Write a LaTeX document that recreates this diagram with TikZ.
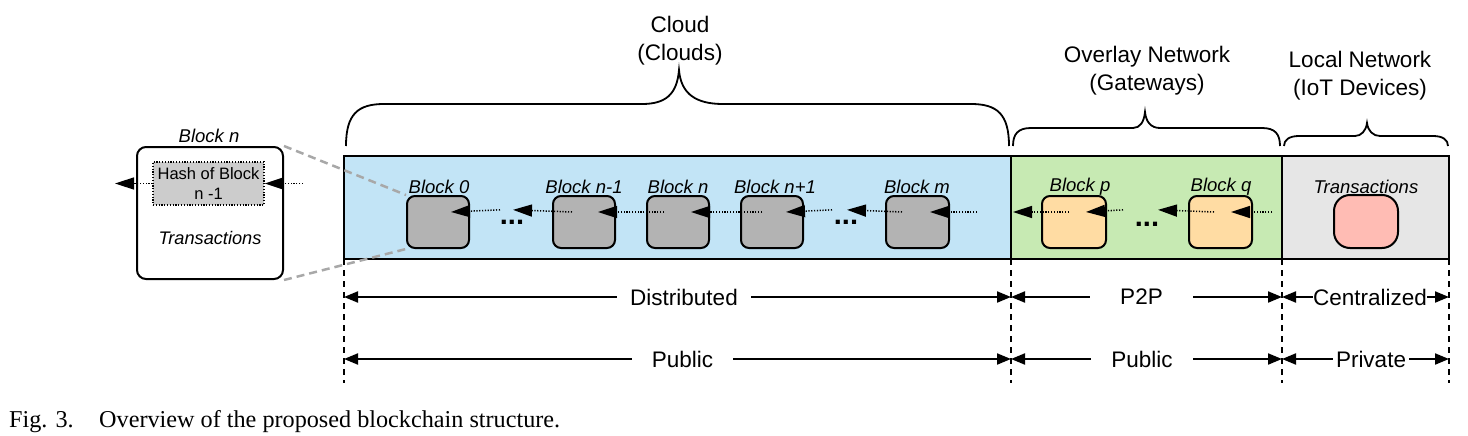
\documentclass[tikz,border=0pt]{standalone}
\usepackage{fontspec}
\setmainfont{Liberation Sans}
\newfontfamily\capfont{Liberation Serif}
\usetikzlibrary{arrows.meta,calc}
\definecolor{cloudblue}{HTML}{C2E4F6}
\definecolor{overgreen}{HTML}{C7EAB3}
\definecolor{localgray}{HTML}{E6E6E6}
\definecolor{blockgray}{HTML}{B3B3B3}
\definecolor{gwblock}{HTML}{FFDCA3}
\definecolor{txpink}{HTML}{FFBCB4}
\definecolor{hashgray}{HTML}{CCCCCC}
\definecolor{linkgray}{HTML}{A8A8A8}
\begin{document}
\begin{tikzpicture}[x=1pt,y=-1pt,
  band/.style={draw,line width=2.2pt,inner sep=0pt,outer sep=0pt,anchor=north west,minimum height=103pt},
  chainblk/.style={draw,line width=2pt,rounded corners=8pt,inner sep=0pt,minimum width=62pt,minimum height=52pt},
  blklabel/.style={font=\fontsize{18.5}{22}\selectfont\itshape,inner sep=0pt},
  hdr/.style={font=\fontsize{22.5}{28}\selectfont,align=center,inner sep=0pt},
  dimlabel/.style={font=\fontsize{22.5}{27}\selectfont,fill=white,inner ysep=2pt},
  chainarr/.style={line width=1.5pt,dash pattern=on 1.2pt off 1.6pt,-{Triangle[length=19pt,width=12pt]}},
  dimarr/.style={line width=2pt,{Triangle[length=14pt,width=11pt]}-{Triangle[length=14pt,width=11pt]}},
  vdash/.style={line width=2pt,dash pattern=on 6pt off 5pt},
  bracepath/.style={line width=1.8pt},
  dotsmark/.style={font=\fontsize{29}{29}\selectfont\bfseries,inner sep=0pt,anchor=base},
  capstyle/.style={font=\capfont\fontsize{24.2}{29}\selectfont,anchor=base west,inner sep=0pt},
  link/.style={draw=linkgray,line width=2.5pt,dash pattern=on 8pt off 5pt}]
\useasboundingbox (0,0) rectangle (1468,436);

% bands
\node[band,fill=cloudblue,minimum width=667pt] (cloud) at (344,156) {};
\node[band,fill=overgreen,minimum width=271pt] (over) at (1011,156) {};
\node[band,fill=localgray,minimum width=167pt] (local) at (1282,156) {};

% detail box
\node[draw,line width=2pt,rounded corners=9pt,minimum width=146pt,minimum height=132pt,inner sep=0pt,anchor=north west,fill=white] (detail) at (136,146) {};
\node[blklabel] (detaillbl) at (209,136) {Block n};
\node[draw,line width=1.3pt,dash pattern=on 1.2pt off 1.6pt,fill=hashgray,minimum width=111pt,minimum height=43pt,inner sep=0pt,align=center,font=\fontsize{16.5}{20}\selectfont] (hash) at (208.5,183.5) {Hash of Block\\n -1};
\node[font=\fontsize{18.2}{22}\selectfont\itshape,inner sep=0pt] (dtx) at (210,238) {Transactions};

% chain blocks
\node[chainblk,fill=blockgray] (b0) at (438,222) {};
\node[chainblk,fill=blockgray] (bn1) at (584,222) {};
\node[chainblk,fill=blockgray] (bn) at (678,222) {};
\node[chainblk,fill=blockgray] (bn2) at (772,222) {};
\node[chainblk,fill=blockgray,minimum width=63pt] (bm) at (917.5,222) {};
\node[chainblk,fill=gwblock,minimum width=64pt] (bp) at (1074,222) {};
\node[chainblk,fill=gwblock,minimum width=63pt] (bq) at (1220.5,222) {};
\node[chainblk,fill=txpink,rounded corners=16pt,minimum width=64pt,minimum height=53pt] (tx) at (1366,221.5) {};

% links from detail box to block 0
\draw[link] (detail.north east) -- (b0.north west);
\draw[link] (detail.south east) -- (b0.south west);

% block labels
\node[blklabel] (l0) at (439,187) {Block 0};
\node[blklabel] (l1) at (584,187) {Block n-1};
\node[blklabel] (l2) at (678,187) {Block n};
\node[blklabel] (l3) at (775,187) {Block n+1};
\node[blklabel] (l4) at (917,187) {Block m};
\node[blklabel] (l5) at (1080,187) {Block p};
\node[blklabel] (l6) at (1221,187) {Block q};
\node[blklabel] (l7) at (1366,187) {Transactions};

% ellipses
\node[dotsmark] (dots1) at (512,224) {...};
\node[dotsmark] (dots2) at (846,224) {...};
\node[dotsmark] (dots3) at (1147,226) {...};

% chain arrows
\coordinate (mend) at (977,212);
\coordinate (qend) at (1272,212);
\coordinate (lend) at (115,183.5);
\coordinate (hend) at (303,183.5);
\draw[chainarr] ($(dots1)+(-12,-12)$) -- ($(b0.east)+(-19,-10)$);
\draw[chainarr] ($(bn1.west)+(20,-10)$) -- ($(dots1)+(1,-12)$);
\draw[chainarr] ($(bn.west)+(18,-10)$) -- ($(bn1.east)+(-18,-10)$);
\draw[chainarr] ($(bn2.west)+(22,-10)$) -- ($(bn.east)+(-19,-10)$);
\draw[chainarr] ($(dots2)+(-14,-12)$) -- ($(bn2.east)+(-18,-10)$);
\draw[chainarr] ($(bm.west)+(17,-10)$) -- ($(dots2)+(1,-12)$);
\draw[chainarr] (mend) -- ($(bm.east)+(-20,-10)$);
\draw[chainarr] ($(bp.west)+(28,-10)$) -- ($(cloud.east)+(2,4.5)$);
\draw[chainarr] ($(dots3)+(-24,-14)$) -- ($(bp.east)+(-21,-10)$);
\draw[chainarr] ($(bq.west)+(26,-10)$) -- ($(dots3)+(11,-14)$);
\draw[chainarr] (qend) -- ($(bq.east)+(-22,-10)$);
\draw[chainarr] (hash.west) -- (lend);
\draw[chainarr] (hend) -- (hash.east);

% braces
\draw[bracepath] (346,146) .. controls (346,114) and (358,104) .. (384,104) -- (642,104)
  .. controls (666,104) and (677,94) .. (679,70) .. controls (681,94) and (696,104) .. (723,104)
  -- (971,104) .. controls (997,104) and (1009,114) .. (1009,146);
\draw[bracepath] (1013,146) .. controls (1013,134) and (1018,128) .. (1031,128) -- (1133,128)
  .. controls (1140,128) and (1144,122) .. (1145,112) .. controls (1146,122) and (1151,128) .. (1160,128)
  -- (1262,128) .. controls (1275,128) and (1280,134) .. (1280,146);
\draw[bracepath] (1284,146) .. controls (1284,140) and (1289,136) .. (1299,136) -- (1355,136)
  .. controls (1361,136) and (1366,131) .. (1367,123) .. controls (1368,131) and (1373,136) .. (1380,136)
  -- (1433,136) .. controls (1443,136) and (1448,140) .. (1448,146);

% header texts
\node[hdr] (hcloud) at (680,41) {Cloud\\(Clouds)};
\node[hdr] (hover) at (1147,70.5) {Overlay Network\\(Gateways)};
\node[hdr] (hlocal) at (1360,76) {Local Network\\(IoT Devices)};

% vertical dashed guides
\coordinate (g1) at (344,383);
\coordinate (g2) at (1011,383);
\coordinate (g3) at (1282,383);
\coordinate (g4) at (1449,383);
\draw[vdash] (cloud.south west) -- (g1);
\draw[vdash] (over.south west) -- (g2);
\draw[vdash] (local.south west) -- (g3);
\draw[vdash] (local.south east) -- (g4);

% dimension rows
\coordinate (r1a) at (344,297); \coordinate (r1b) at (1011,297);
\coordinate (r1c) at (1282,297); \coordinate (r1d) at (1449,297);
\coordinate (r2a) at (344,359); \coordinate (r2b) at (1011,359);
\coordinate (r2c) at (1282,359); \coordinate (r2d) at (1449,359);
\draw[dimarr] (r1a) -- (r1b);
\draw[dimarr] (r1b) -- (r1c);
\draw[dimarr] (r1c) -- (r1d);
\draw[dimarr] (r2a) -- (r2b);
\draw[dimarr] (r2b) -- (r2c);
\draw[dimarr] (r2c) -- (r2d);
\node[dimlabel,inner xsep=13pt] (tdist) at (684,297) {Distributed};
\node[dimlabel,inner xsep=30pt] (tp2p) at (1141.5,297) {P2P};
\node[dimlabel,inner xsep=0.5pt] (tcent) at (1370,297) {Centralized};
\node[dimlabel,inner xsep=20pt] (tpub1) at (682.5,359) {Public};
\node[dimlabel,inner xsep=20pt] (tpub2) at (1142,359) {Public};
\node[dimlabel,inner xsep=3pt] (tpriv) at (1371,359) {Private};

% caption
\node[capstyle] (capfig) at (9,427) {Fig. 3.};
\node[capstyle] (captxt) at (99,427) {Overview of the proposed blockchain structure.};
\end{tikzpicture}
\end{document}
